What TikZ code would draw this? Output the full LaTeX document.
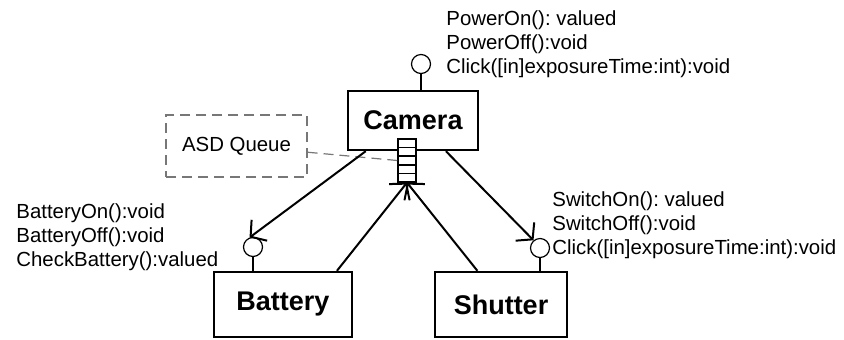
\documentclass[tikz,border=0pt]{standalone}
\usepackage{fontspec}
\setmainfont{Liberation Sans}
\usepackage{tikz}
\usetikzlibrary{arrows.meta,calc}
\definecolor{ASDgray}{HTML}{777777}
\frenchspacing

\begin{document}
\begin{tikzpicture}[x=0.5pt,y=-0.5pt]

    \tikzset{%
        comp/.style args={#1/#2}{%
                draw, line width=1.2pt, inner sep=0pt,
                minimum width=#1, minimum height=#2,
                font=\fontsize{13.5}{16}\selectfont\bfseries
            },
        iface/.style={draw, circle, line width=0.6pt, minimum size=9.5pt, inner sep=0pt},
        stem/.style={line width=0.6pt},
        ops/.style={anchor=north west, align=left, inner sep=0pt, font=\fontsize{10.2}{12}\selectfont},
        link/.style={line width=1pt, -{Straight Barb[angle=100:8.5pt]}},
        asdline/.style={draw=ASDgray, dash pattern=on 5pt off 3pt, line width=0.6pt}
    }

    \useasboundingbox (0, 0) rectangle (844, 339);

    \node [comp=65pt/29.5pt] (camera) at (413, 120.5) {Camera};
    \node [comp=69pt/32.5pt] (battery) at (283, 304.5) {Battery};
    \node [comp=66pt/32.5pt] (shutter) at (501, 304.5) {Shutter};

    \node [iface] (camIf) at (421, 64) {};
    \node [iface] (batIf) at (253, 247) {};
    \node [iface] (shuIf) at (540, 248) {};
    \draw [stem] (camIf) -- (camIf |- camera.north);
    \draw [stem] (batIf) -- (batIf |- battery.north);
    \draw [stem] (shuIf) -- (shuIf |- shutter.north);

    \node [ops] (camOps) at (446, 10.5) {PowerOn(): valued\\PowerOff():void\\Click([in]exposureTime:int):void};
    \node [ops] (batOps) at (16, 203.5) {BatteryOn():void\\BatteryOff():void\\CheckBattery():valued};
    \node [ops] (shuOps) at (552, 191.5) {SwitchOn(): valued\\SwitchOff():void\\Click([in]exposureTime:int):void};

    \node [asdline, minimum width=70.5pt, minimum height=31pt, inner sep=0pt,
        font=\fontsize{10.2}{12}\selectfont] (asd) at (236.5, 146) {ASD Queue};

    \node [draw, fill=white, line width=0.6pt, minimum width=9pt, minimum height=21.5pt, inner sep=0pt] (queue) at (407, 160.5) {};
    \foreach \k in {1, ..., 4} {%
            \draw [stem] ($(queue.north west)!\k/5!(queue.south west)$) -- ($(queue.north east)!\k/5!(queue.south east)$);
        }
    \draw [asdline] (asd.-5) -- (queue.west);

    \draw [link] (camera.213) -- (batIf.110);
    \draw [link] (camera.317) -- (shuIf.130);
    \draw [link] (battery.32) -- (queue.south);
    \draw [link] (shutter.125) -- (queue.south);

\end{tikzpicture}
\end{document}
